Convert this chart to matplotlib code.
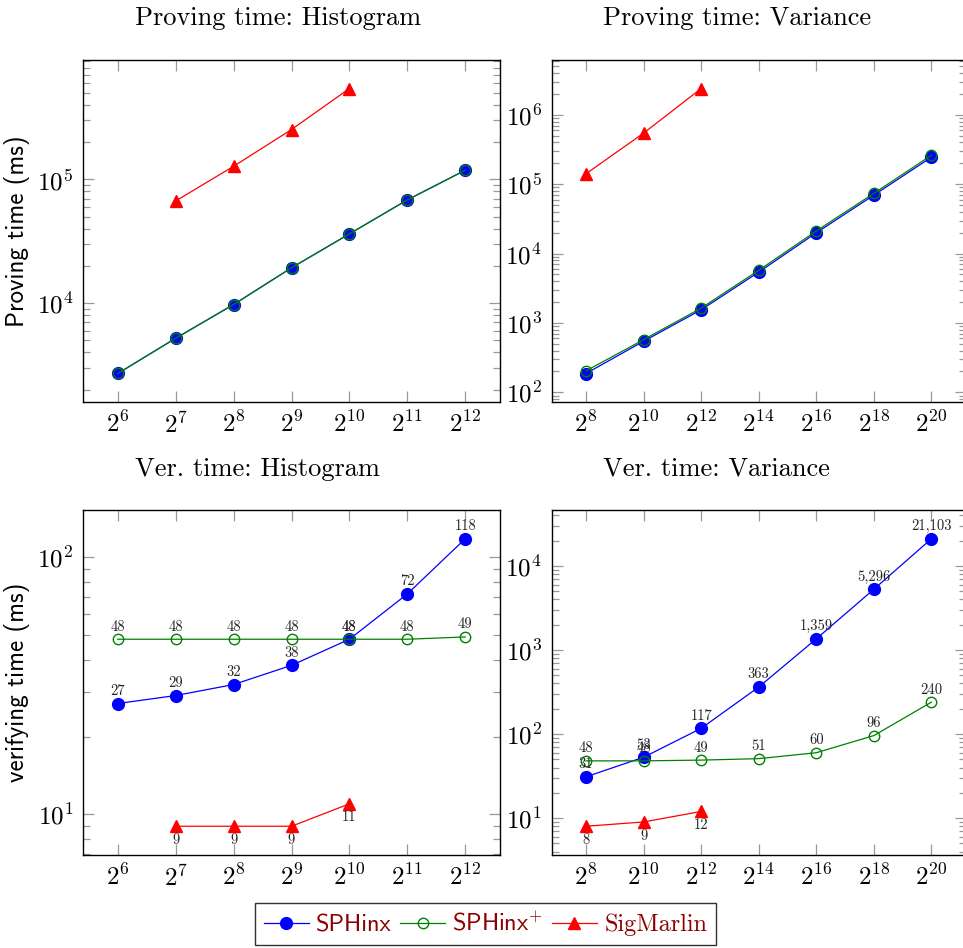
import numpy as np
import matplotlib
matplotlib.use("Agg")
import matplotlib.pyplot as plt
from matplotlib import ticker

plt.rcParams['mathtext.fontset'] = 'cm'
plt.rcParams['axes.formatter.use_mathtext'] = True

# exposants (2^k) sur l'axe x
hist_exp = [6, 7, 8, 9, 10, 11, 12]
hist_exp_sigmarlin = [7, 8, 9, 10]
var_exp = [8, 10, 12, 14, 16, 18, 20]
var_exp_sigmarlin = [8, 10, 12]

# temps de preuve (ms)
prove_hist_sphinx = [2700, 5200, 9750, 19300, 36300, 68300, 118700]
prove_hist_sphinx_plus = [2700, 5200, 9750, 19300, 36300, 68300, 118700]
prove_hist_sigmarlin = [67000, 127600, 253000, 543000]

prove_var_sphinx = [187, 546, 1550, 5410, 19950, 69700, 245500]
prove_var_sphinx_plus = [204, 575, 1640, 5750, 21200, 74000, 262000]
prove_var_sigmarlin = [141600, 546000, 2400000]

# temps de vérification (ms)
ver_hist_sphinx = [27, 29, 32, 38, 48, 72, 118]
ver_hist_sphinx_plus = [48, 48, 48, 48, 48, 48, 49]
ver_hist_sigmarlin = [9, 9, 9, 11]

ver_var_sphinx = [31, 53, 117, 363, 1359, 5296, 21103]
ver_var_sphinx_plus = [48, 48, 49, 51, 60, 96, 240]
ver_var_sigmarlin = [8, 9, 12]

titles = ["Proving time: Histogram", "Proving time: Variance",
          "Ver. time: Histogram", "Ver. time: Variance"]

BLUE, GREEN, RED = '#0000ff', '#008000', '#ff0000'
LEG_TXT = '#8b0000'


def panel(ax, ex, ex_sm, s1, s2, s3, labels=False):
    x1 = [2.0 ** e for e in ex]
    x3 = [2.0 ** e for e in ex_sm]
    ax.plot(x1, s1, '-o', color=BLUE, lw=0.9, ms=8.5, mfc=BLUE, mec=BLUE, label='SPHinx')
    ax.plot(x1, s2, '-o', color=GREEN, lw=0.9, ms=7.5, mfc='none', mec=GREEN, mew=1.0,
            label='SPHinx$^{+}$')
    ax.plot(x3, s3, '-^', color=RED, lw=0.9, ms=8, mfc=RED, mec=RED, label='SigMarlin')
    ax.set_xscale('log', base=2)
    ax.set_yscale('log')

    # marges à la pgfplots (10 %)
    lo, hi = min(ex), max(ex)
    p = 0.1 * (hi - lo)
    ax.set_xlim(2 ** (lo - p), 2 ** (hi + p))
    ally = np.log10(np.concatenate([s1, s2, s3]))
    lo, hi = ally.min(), ally.max()
    p = 0.1 * (hi - lo)
    ax.set_ylim(10 ** (lo - p), 10 ** (hi + p))

    ax.xaxis.set_major_locator(ticker.FixedLocator(x1))
    ax.xaxis.set_major_formatter(ticker.FuncFormatter(lambda v, _: r'$2^{%d}$' % round(np.log2(v))))
    ax.xaxis.set_minor_locator(ticker.NullLocator())
    ax.yaxis.set_major_locator(ticker.LogLocator(base=10, numticks=20))
    ax.yaxis.set_minor_locator(ticker.LogLocator(base=10, subs=np.arange(2, 10), numticks=20))
    ax.yaxis.set_major_formatter(ticker.FuncFormatter(lambda v, _: r'$10^{%d}$' % round(np.log10(v))))
    ax.yaxis.set_minor_formatter(ticker.NullFormatter())
    ax.tick_params(which='both', direction='in', top=True, right=True,
                   color='#999999', width=0.9, labelsize=18, pad=7)
    ax.tick_params(which='major', length=8)
    ax.tick_params(which='minor', length=5)
    for sp in ax.spines.values():
        sp.set_linewidth(1.0)

    if labels:
        for xs, ys, up in [(x1, s1, True), (x1, s2, True), (x3, s3, False)]:
            for xv, yv in zip(xs, ys):
                ax.annotate(f"{yv:,}", (xv, yv), xytext=(0, 4 if up else -5),
                            textcoords='offset points', ha='center',
                            va='bottom' if up else 'top', fontsize=10.5,
                            family='cmr10', color='#222222')


fig = plt.figure(figsize=(9.63, 9.48), dpi=100)
W, H = 963, 948
boxes = [(83, 60, 500, 402), (551.5, 60, 966, 402),
         (83, 510, 500, 855), (551.5, 510, 966, 855)]
axs = [fig.add_axes([l / W, 1 - b / H, (r - l) / W, (b - t) / H]) for l, t, r, b in boxes]

panel(axs[0], hist_exp, hist_exp_sigmarlin, prove_hist_sphinx, prove_hist_sphinx_plus, prove_hist_sigmarlin)
panel(axs[1], var_exp, var_exp_sigmarlin, prove_var_sphinx, prove_var_sphinx_plus, prove_var_sigmarlin)
panel(axs[2], hist_exp, hist_exp_sigmarlin, ver_hist_sphinx, ver_hist_sphinx_plus, ver_hist_sigmarlin, labels=True)
panel(axs[3], var_exp, var_exp_sigmarlin, ver_var_sphinx, ver_var_sphinx_plus, ver_var_sigmarlin, labels=True)

# titres alignés à gauche comme dans l'original
title_pos = [(135, 25), (603, 25), (135, 476), (603, 476)]
for (tx, ty), t in zip(title_pos, titles):
    fig.text(tx / W, 1 - ty / H, t, family='cmr10', fontsize=19, ha='left', va='baseline')

axs[0].set_ylabel('Proving time (ms)', family='cmss10', fontsize=18, labelpad=5)
axs[2].set_ylabel('verifying time (ms)', family='cmss10', fontsize=18, labelpad=5)

handles, lbls = axs[0].get_legend_handles_labels()
leg = fig.legend(handles, lbls, loc='center', bbox_to_anchor=(485.5 / W, 1 - 924 / H),
                 ncol=3, fontsize=17.5, frameon=True, fancybox=False, edgecolor='black',
                 handlelength=1.85, handletextpad=0.3, columnspacing=0.35,
                 borderpad=0.35, borderaxespad=0)
leg.get_frame().set_linewidth(1.0)
for txt, fam in zip(leg.get_texts(), ['cmss10', 'cmss10', 'cmr10']):
    txt.set_family(fam)
    txt.set_color(LEG_TXT)

fig.savefig('out.png', dpi=100)
